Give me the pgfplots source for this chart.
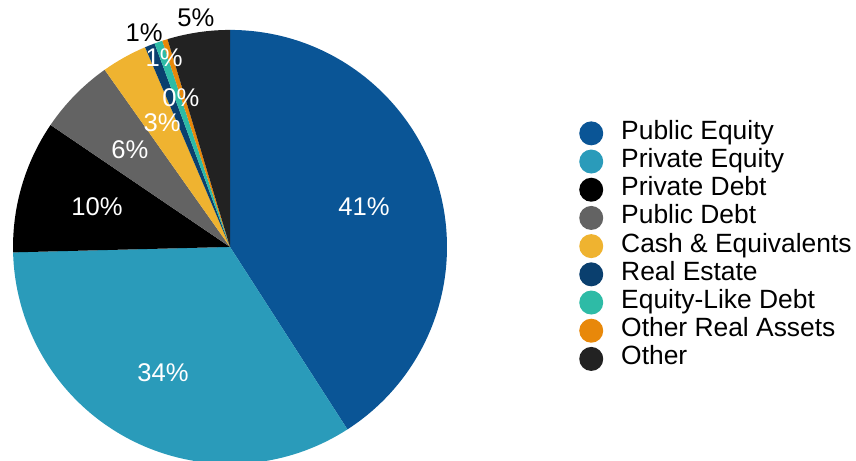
\documentclass[border=0pt]{standalone}
\usepackage{pgfplots}
\usepackage{pgfplotstable}
\pgfplotsset{compat=1.18}
\usepackage{fontspec}
\setmainfont{Liberation Sans}

\definecolor{cPE}{HTML}{0A5596}
\definecolor{cPrE}{HTML}{2A9BBA}
\definecolor{cPD}{HTML}{000000}
\definecolor{cPuD}{HTML}{636363}
\definecolor{cCash}{HTML}{EFB330}
\definecolor{cRE}{HTML}{0A3F6E}
\definecolor{cELD}{HTML}{2EBBA6}
\definecolor{cORA}{HTML}{E8880A}
\definecolor{cOth}{HTML}{222222}

% shares in percent, clockwise from 12 o'clock
\pgfplotstableread{
share col
40.9  cPE
33.7  cPrE
9.9   cPD
5.7   cPuD
3.4   cCash
0.75  cRE
0.6   cELD
0.4   cORA
4.65  cOth
}\slices

\begin{document}
\begin{tikzpicture}
% picture frame: 856 x 461 px at 0.5pt/px, pie centre at (0,0)
\useasboundingbox (-115.01pt,-106.98pt) rectangle (313.02pt,123.47pt);
\begin{axis}[
  hide axis,
  at={(0,0)}, anchor=origin,
  x=108.5pt, y=108.5pt,
  xmin=-1.06, xmax=2.885,
  ymin=-0.986, ymax=1.138,
  font=\fontsize{12.8}{14}\selectfont,
  legend cell align=left,
  legend image code/.code={\fill[#1,draw=none] (6pt,0pt) circle[radius=6pt];},
  legend style={at={(axis cs:1.580,0.599)}, anchor=north west,
    draw=none, fill=none, row sep=2.1pt, column sep=9pt,
    font=\fontsize{13.2}{14}\selectfont,
    nodes={inner sep=0pt, text height=9pt, text depth=3pt}},
]
\pgfplotstablegetrowsof{\slices}
\pgfmathtruncatemacro\nrows{\pgfplotsretval-1}
\def\angA{90}
\pgfplotsforeachungrouped \i in {0,...,\nrows}{%
  \pgfplotstablegetelem{\i}{share}\of\slices \let\s\pgfplotsretval
  \pgfplotstablegetelem{\i}{col}\of\slices \let\c\pgfplotsretval
  \pgfmathsetmacro\angB{\angA-3.6*\s}%
  \edef\doit{\noexpand\fill[\c] (axis cs:0,0) -- (axis cs:{cos(\angA)},{sin(\angA)})
     arc[start angle=\angA, end angle=\angB, radius=108.5pt] -- cycle;}%
  \doit
  \global\let\angA\angB
}

\addlegendimage{fill=cPE}\addlegendentry{Public Equity}
\addlegendimage{fill=cPrE}\addlegendentry{Private Equity}
\addlegendimage{fill=cPD}\addlegendentry{Private Debt}
\addlegendimage{fill=cPuD}\addlegendentry{Public Debt}
\addlegendimage{fill=cCash}\addlegendentry{Cash \& Equivalents}
\addlegendimage{fill=cRE}\addlegendentry{Real Estate}
\addlegendimage{fill=cELD}\addlegendentry{Equity-Like Debt}
\addlegendimage{fill=cORA}\addlegendentry{Other Real Assets}
\addlegendimage{fill=cOth}\addlegendentry{Other}

\node[white] at (axis cs:0.618,0.184) {41\%};
\node[white] at (axis cs:-0.309,-0.581) {34\%};
\node[white] at (axis cs:-0.613,0.184) {10\%};
\node[white] at (axis cs:-0.461,0.447) {6\%};
\node[white] at (axis cs:-0.313,0.571) {3\%};
\node[white] at (axis cs:-0.226,0.687) {0\%};
\node[white] at (axis cs:-0.304,0.871) {1\%};
\node[black] at (axis cs:-0.396,0.986) {1\%};
\node[black] at (axis cs:-0.157,1.055) {5\%};
\end{axis}
\end{tikzpicture}
\end{document}
